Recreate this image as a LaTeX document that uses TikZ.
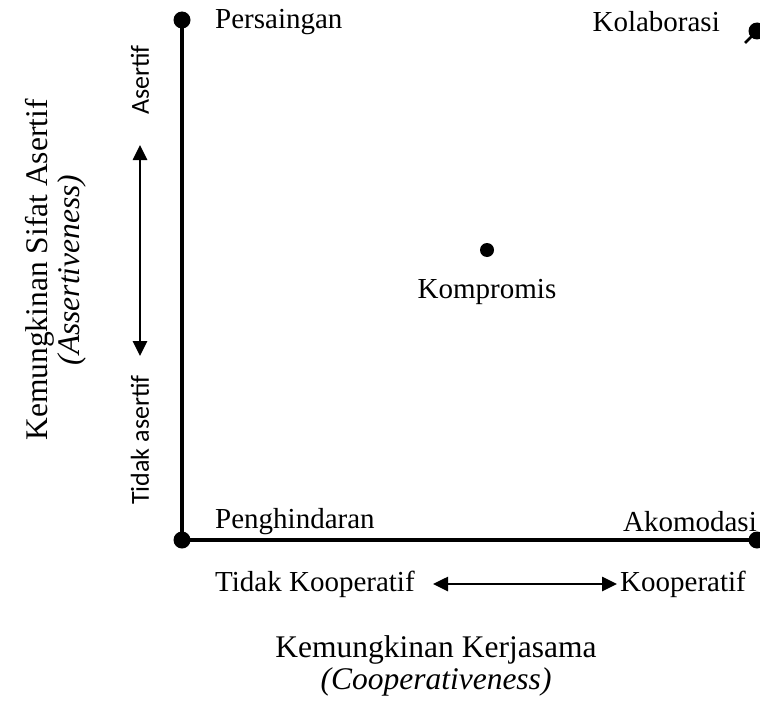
\documentclass[tikz,border=0pt]{standalone}
\usepackage{fontspec}
\setmainfont{Liberation Serif}
\newfontfamily\calfont{Carlito}
\usetikzlibrary{arrows.meta}
\begin{document}
\begin{tikzpicture}[x=1pt,y=-1pt,
	dot/.style={circle,fill,inner sep=0pt,minimum size=17pt},
	smalldot/.style={circle,fill,inner sep=0pt,minimum size=14pt},
	lbl/.style={font=\fontsize{29}{33}\selectfont,inner sep=0pt},
	titel/.style={font=\fontsize{31.5}{36}\selectfont,inner sep=0pt},
	sanslbl/.style={font=\calfont\fontsize{26}{30}\selectfont,inner sep=0pt,rotate=90},
	axis/.style={line width=4.5pt},
	dbl/.style={line width=2.6pt,{Triangle[length=15pt,width=14pt]}-{Triangle[length=15pt,width=14pt]}}]
	\clip (0,0) rectangle (760,725);
	% titik sudut
	\node[dot] (pers) at (182,20) {};
	\node[dot] (peng) at (182,540) {};
	\node[dot] (akom) at (757,540) {};
	\node[dot] (kola) at (757,31) {};
	\node[smalldot] (komp) at (487,250) {};
	\coordinate (ekor) at (745,43);
	\draw[line width=2.5pt] (kola.center)--(ekor);
	% sumbu
	\draw[axis] (pers.center)--(peng.center)--(akom.center);
	% label gaya
	\node[lbl,anchor=west] (tpers) at (215,22) {Persaingan};
	\node[lbl,anchor=east] (tkola) at (720,22) {Kolaborasi};
	\node[lbl] (tkomp) at (487,292) {Kompromis};
	\node[lbl,anchor=west] (tpeng) at (215,522) {Penghindaran};
	\node[lbl,anchor=east] (takom) at (757,522) {Akomodasi};
	% arah asertif
	\node[sanslbl] (ase) at (140,80) {Asertif};
	\node[sanslbl] (tase) at (140,440) {Tidak asertif};
	\coordinate (a1) at (140,145);
	\coordinate (a2) at (140,356);
	\draw[dbl] (a1)--(a2);
	% arah kooperatif
	\node[lbl,anchor=west] (tkoop) at (215,584) {Tidak Kooperatif};
	\node[lbl,anchor=west] (koop) at (620,584) {Kooperatif};
	\coordinate (k1) at (433,584);
	\coordinate (k2) at (617,584);
	\draw[dbl] (k1)--(k2);
	% judul sumbu
	\node[titel] (jx) at (436,650) {Kemungkinan Kerjasama};
	\node[titel] (jx2) at (436,682) {\itshape (Cooperativeness)};
	\node[titel,rotate=90] (jy) at (40,270) {Kemungkinan Sifat Asertif};
	\node[titel,rotate=90] (jy2) at (72,270) {\itshape (Assertiveness)};
\end{tikzpicture}
\end{document}
